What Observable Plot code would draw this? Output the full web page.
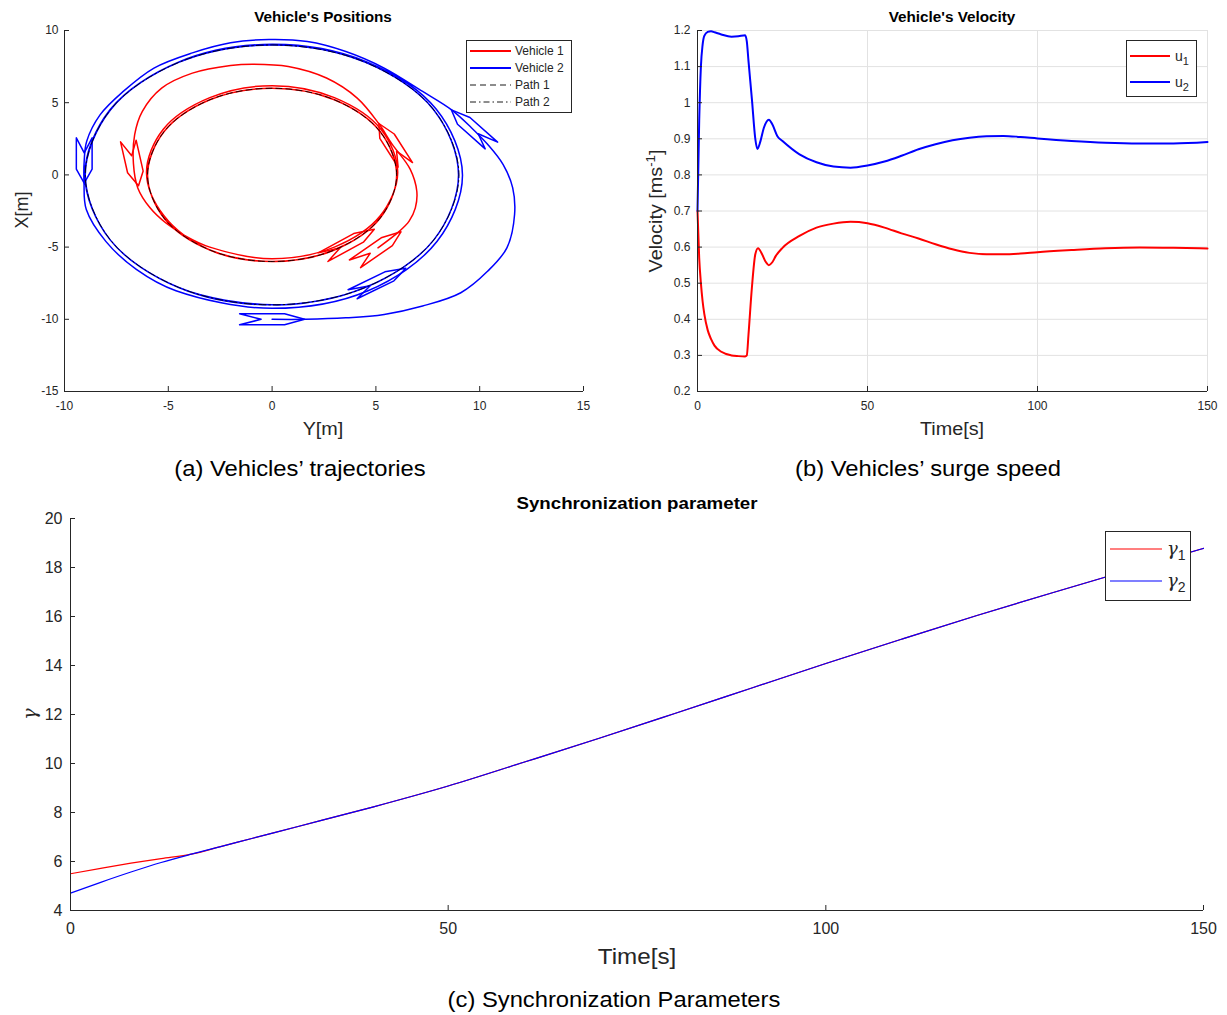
<!DOCTYPE html>
<html><head><meta charset="utf-8">
<script src="https://cdn.jsdelivr.net/npm/d3@7"></script>
<script src="https://cdn.jsdelivr.net/npm/@observablehq/plot@0.6"></script>
<style>
body{margin:0;background:#fff;}
#fig{position:relative;width:1227px;height:1015px;font-family:"Liberation Sans",Arial,Helvetica,sans-serif;color:#262626;overflow:hidden;}
.abs{position:absolute;white-space:nowrap;line-height:1;}
.lg{position:absolute;background:#fff;border:1px solid #262626;box-sizing:border-box;}
.plot{position:absolute;}
</style></head><body><div id="fig"></div>
<script>
// ---------- (a) Vehicles' trajectories : points as [Y, X] in metres ----------
const v1Y = [5.10, 6.14, 6.60, 6.90, 6.97, 6.65, 5.78, 5.12, 4.10, 2.62, 0.78, -0.89, -2.00, -3.84, -5.32, -6.25, -6.62, -6.68, -6.47, -5.88, -5.10, -4.20,
  -3.00, 0.00, 3.00, 5.20, 6.05, 5.25, 3.00, 0.00, -3.00, -5.25, -6.05, -5.20,
  -3.00, 0.00, 3.00, 5.20, 6.00, 5.20, 3.00, 0.00, -3.00, -5.20, -6.00, -5.20, -3.00, 0.00, 2.20, 3.69];
const v1X = [-5.05, -3.89, -3.20, -2.28, -1.13, 0.40, 2.13, 3.59, 5.32, 6.71, 7.51, 7.67, 7.58, 7.05, 6.01, 4.40, 2.79, 0.80, -0.90, -2.28, -3.35, -4.20,
  -5.00, -5.80, -5.00, -2.85, 0.15, 3.15, 5.35, 6.18, 5.35, 3.15, 0.15, -2.85,
  -5.20, -6.00, -5.20, -3.00, 0.00, 3.00, 5.20, 6.00, 5.20, 3.00, 0.00, -3.00, -5.20, -6.00, -5.58, -4.73];
const v2Y = [0.00, 1.61, 3.55, 5.40, 7.25, 9.09, 10.39, 11.31, 11.68, 11.59, 11.13, 10.39, 9.60, 8.63, 7.25, 5.40, 3.55, 1.70, -0.15, -2.00, -3.84, -5.69, -7.17, -8.28, -8.93, -9.05, -9.06,
  -8.95, -8.00, -6.54, -4.63, 0.00, 4.62, 7.95, 9.17, 7.90, 4.53, 0.00, -4.51, -7.81, -9.02, -7.80, -4.50, 0.00, 4.50, 7.79, 8.98, 7.79, 4.50, 0.00, -4.50, -7.79, -9.00, -7.80, -4.50, 0.00, 3.10, 5.16];
const v2X = [-10.00, -10.00, -9.90, -9.66, -9.08, -8.16, -6.66, -5.05, -2.74, -0.90, 0.71, 2.10, 3.27, 4.52, 5.78, 7.40, 8.55, 9.24, 9.38, 9.15, 8.45, 7.40, 5.78, 4.17, 2.33, 1.00, -0.55,
  -2.40, -4.62, -6.54, -8.02, -9.24, -8.02, -4.60, 0.00, 4.56, 7.84, 9.04, 7.81, 4.51, 0.00, -4.50, -7.80, -9.00, -7.79, -4.50, 0.00, 4.50, 7.79, 9.00, 7.79, 4.50, 0.00, -4.50, -7.80, -9.00, -8.45, -7.37];
// reference paths (circles of radius 6 and 9)
const p1Y = [6, 5.20, 3.00, 0, -3.00, -5.20, -6, -5.20, -3.00, 0, 3.00, 5.20];
const p1X = [0, 3.00, 5.20, 6, 5.20, 3.00, 0, -3.00, -5.20, -6, -5.20, -3.00];
const p2Y = [9, 7.79, 4.50, 0, -4.50, -7.79, -9, -7.79, -4.50, 0, 4.50, 7.79];
const p2X = [0, 4.50, 7.79, 9, 7.79, 4.50, 0, -4.50, -7.79, -9, -7.79, -4.50];
// vehicle poses drawn as glyphs: centre [Y, X] and heading (deg, in the Y-X plane)
const g1Y = [5.10, 5.78, -6.68, 3.69], g1X = [-5.05, 2.13, 0.80, -4.73], g1H = [45, 114, -81, 38];
const g2Y = [0.00, 9.60, -9.05, 5.16], g2X = [-10.00, 3.27, 1.00, -7.37], g2H = [0, 128, -90, 35];
const xTicksA = [-10, -5, 0, 5, 10, 15];
const yTicksA = [-15, -10, -5, 0, 5, 10];

// ---------- (b) Vehicles' surge speed ----------
const t1 = [0, 0.5, 1, 1.5, 2, 3, 4, 5, 7, 10, 12, 14, 14.5, 15, 16, 17, 17.8, 19, 20, 21, 22, 23, 25, 30, 35, 40, 45, 50, 55, 60, 65, 70, 75, 80, 85, 90, 95, 100, 110, 120, 130, 140, 150];
const u1 = [0.70, 0.57, 0.50, 0.45, 0.415, 0.37, 0.345, 0.327, 0.31, 0.30, 0.298, 0.297, 0.30, 0.358, 0.488, 0.58, 0.597, 0.58, 0.56, 0.55, 0.558, 0.575, 0.598, 0.631, 0.654, 0.665, 0.670, 0.666, 0.654, 0.638, 0.624, 0.608, 0.594, 0.584, 0.580, 0.580, 0.582, 0.586, 0.592, 0.597, 0.599, 0.598, 0.596];
const t2 = [0, 0.5, 1, 1.5, 2, 3, 4, 5, 7, 10, 12, 14, 14.5, 15, 16, 17, 17.6, 18.5, 19.5, 21, 22, 23.5, 25, 30, 35, 40, 45, 50, 55, 60, 65, 70, 75, 80, 85, 90, 95, 100, 110, 120, 130, 140, 150];
const u2 = [0.70, 0.95, 1.10, 1.16, 1.185, 1.196, 1.198, 1.195, 1.189, 1.183, 1.184, 1.187, 1.17, 1.115, 1.01, 0.90, 0.872, 0.893, 0.93, 0.953, 0.94, 0.907, 0.894, 0.857, 0.835, 0.823, 0.820, 0.826, 0.837, 0.853, 0.871, 0.885, 0.896, 0.903, 0.907, 0.908, 0.905, 0.901, 0.894, 0.889, 0.887, 0.887, 0.891];
const xTicksB = [0, 50, 100, 150];
const yTicksB = [0.2, 0.3, 0.4, 0.5, 0.6, 0.7, 0.8, 0.9, 1, 1.1, 1.2];

// ---------- (c) Synchronization parameters ----------
const tg = [0, 4, 8, 12, 16, 20, 24, 30, 40, 50, 60, 70, 80, 90, 100, 110, 120, 130, 140, 150];
const gamma1 = [5.50, 5.72, 5.93, 6.12, 6.30, 6.62, 6.94, 7.42, 8.22, 9.08, 10.05, 11.03, 12.04, 13.06, 14.08, 15.07, 16.04, 16.97, 17.88, 18.78];
const gamma2 = [4.71, 5.15, 5.57, 5.96, 6.30, 6.62, 6.94, 7.42, 8.22, 9.08, 10.05, 11.03, 12.04, 13.06, 14.08, 15.07, 16.04, 16.97, 17.88, 18.78];
const xTicksC = [0, 50, 100, 150];
const yTicksC = [4, 6, 8, 10, 12, 14, 16, 18, 20];

// ---------- helpers ----------
const AX = "#262626", GRID = "#e2e2e2", RED = "#ff0000", BLUE = "#0000ff";
const zipYX = (Y, X) => Y.map((y, i) => ({Y: y, X: X[i]}));
const zipTV = (T, V) => T.map((t, i) => ({t, v: V[i]}));
// vehicle outline in body frame (forward, lateral), metres
const hull = [[1.565, 0], [0.6, 0.38], [-1.565, 0.38], [-0.53, 0], [-1.565, -0.38], [0.6, -0.38], [1.565, 0]];
function glyphs(Ys, Xs, Hs, tag) {
  const out = [];
  Ys.forEach((y, i) => {
    const a = Hs[i] * Math.PI / 180, c = Math.cos(a), s = Math.sin(a);
    hull.forEach(([f, l]) => out.push({id: tag + i, Y: y + f * c - l * s, X: Xs[i] + f * s + l * c}));
  });
  return out;
}
const fmt = d => String(d);
function frameAxes(xTicks, yTicks, fw, fh, xDom, yDom, pad) {
  return [
    Plot.tickX(xTicks, {x: d => d, stroke: AX, insetTop: fh - 5}),
    Plot.tickY(yTicks, {y: d => d, stroke: AX, insetRight: fw - 5}),
    Plot.ruleX([xDom[0]], {stroke: AX}),
    Plot.ruleY([yDom[0]], {stroke: AX}),
    Plot.axisX(xTicks, {tickSize: 0, tickPadding: pad[0], tickFormat: fmt, label: null}),
    Plot.axisY(yTicks, {tickSize: 0, tickPadding: pad[1], tickFormat: fmt, label: null})
  ];
}
const fig = document.getElementById("fig");
function place(el, left, top) { el.classList.add("plot"); el.style.left = left + "px"; el.style.top = top + "px"; fig.appendChild(el); }
function txt(html, left, top, css, rot = false, sx = 1) {
  const d = document.createElement("div");
  d.className = "abs";
  d.style.cssText = `left:${left}px;top:${top}px;` + css +
    `transform:translate(-50%,-50%)${rot ? " rotate(-90deg)" : ""} scaleX(${sx});`;
  d.innerHTML = html; fig.appendChild(d); return d;
}
const baseStyle = fs => ({fontFamily: "Liberation Sans, Arial, Helvetica, sans-serif", fontSize: fs + "px", color: AX, background: "none", overflow: "visible"});

// ---------- Plot (a) ----------
{
  const W = 600, H = 450, mL = 64, mR = 17, mT = 30, mB = 59;
  const fw = W - mL - mR, fh = H - mT - mB;
  const plotA = Plot.plot({
    width: W, height: H, marginLeft: mL, marginRight: mR, marginTop: mT, marginBottom: mB,
    x: {domain: [-10, 15]}, y: {domain: [-15, 10]},
    style: baseStyle(12),
    marks: [
      Plot.line(zipYX(v1Y, v1X), {x: "Y", y: "X", stroke: RED, strokeWidth: 1.5, curve: "catmull-rom"}),
      Plot.line(glyphs(g1Y, g1X, g1H, "a"), {x: "Y", y: "X", z: "id", stroke: RED, strokeWidth: 1.5}),
      Plot.line(zipYX(v2Y, v2X), {x: "Y", y: "X", stroke: BLUE, strokeWidth: 1.5, curve: "catmull-rom"}),
      Plot.line(glyphs(g2Y, g2X, g2H, "b"), {x: "Y", y: "X", z: "id", stroke: BLUE, strokeWidth: 1.5}),
      Plot.line(zipYX(p1Y, p1X), {x: "Y", y: "X", stroke: "#000", strokeWidth: 0.9, strokeDasharray: "6,4", curve: "catmull-rom-closed"}),
      Plot.line(zipYX(p2Y, p2X), {x: "Y", y: "X", stroke: "#000", strokeWidth: 0.9, strokeDasharray: "7,3,1.5,3", curve: "catmull-rom-closed"}),
      ...frameAxes(xTicksA, yTicksA, fw, fh, [-10, 15], [-15, 10], [10, 6])
    ]
  });
  place(plotA, 0, 0);
}
// ---------- Plot (b) ----------
{
  const W = 607, H = 450, mL = 77, mR = 20, mT = 30, mB = 59;
  const fw = W - mL - mR, fh = H - mT - mB;
  const plotB = Plot.plot({
    width: W, height: H, marginLeft: mL, marginRight: mR, marginTop: mT, marginBottom: mB,
    x: {domain: [0, 150]}, y: {domain: [0.2, 1.2]},
    style: baseStyle(12),
    marks: [
      Plot.ruleX(xTicksB.slice(1), {stroke: GRID}),
      Plot.ruleY(yTicksB.slice(1), {stroke: GRID}),
      Plot.line(zipTV(t1, u1), {x: "t", y: "v", stroke: RED, strokeWidth: 2, curve: "monotone-x"}),
      Plot.line(zipTV(t2, u2), {x: "t", y: "v", stroke: BLUE, strokeWidth: 2, curve: "monotone-x"}),
      ...frameAxes(xTicksB, yTicksB, fw, fh, [0, 150], [0.2, 1.2], [10, 7])
    ]
  });
  place(plotB, 620, 0);
}
// ---------- Plot (c) ----------
{
  const W = 1227, H = 460, mL = 70, mR = 24, mT = 28, mB = 40;
  const fw = W - mL - mR, fh = H - mT - mB;
  const plotC = Plot.plot({
    width: W, height: H, marginLeft: mL, marginRight: mR, marginTop: mT, marginBottom: mB,
    x: {domain: [0, 150]}, y: {domain: [4, 20]},
    style: baseStyle(16),
    marks: [
      Plot.line(zipTV(tg, gamma1), {x: "t", y: "v", stroke: RED, strokeWidth: 1.2, curve: "monotone-x"}),
      Plot.line(zipTV(tg, gamma2), {x: "t", y: "v", stroke: BLUE, strokeWidth: 1.2, curve: "monotone-x"}),
      ...frameAxes(xTicksC, yTicksC, fw, fh, [0, 150], [4, 20], [12, 8])
    ]
  });
  place(plotC, 0, 490);
}

// ---------- titles, labels, captions ----------
txt("Vehicle's Positions", 323, 17, "font-weight:bold;font-size:14px;color:#000;", false, 1.09);
txt("Vehicle's Velocity", 952, 17, "font-weight:bold;font-size:14px;color:#000;", false, 1.09);
txt("Synchronization parameter", 637, 503, "font-weight:bold;font-size:17px;color:#000;", false, 1.1);
txt("Y[m]", 323, 429, "font-size:18px;", false, 1.1);
txt("X[m]", 22, 210, "font-size:18px;", true, 1.0);
txt("Time[s]", 952, 429, "font-size:18px;", false, 1.1);
txt("Velocity [ms<sup style='font-size:12px;vertical-align:7px'>-1</sup>]", 655, 211, "font-size:18px;", true, 1.1);
txt("Time[s]", 637, 957, "font-size:22px;", false, 1.1);
txt("&#947;", 29, 714, "font-size:19px;font-family:'DejaVu Serif',serif;font-style:italic;", true, 1);
txt("(a) Vehicles’ trajectories", 300, 469, "font-size:22px;color:#000;", false, 1.08);
txt("(b) Vehicles’ surge speed", 928, 469, "font-size:22px;color:#000;", false, 1.08);
txt("(c) Synchronization Parameters", 614, 1000, "font-size:22px;color:#000;", false, 1.08);

// ---------- legends ----------
function legendBox(left, top, w, h, rows, fs, lineX1, lineX2, textX, sw) {
  const box = document.createElement("div");
  box.className = "lg";
  Object.assign(box.style, {left: left + "px", top: top + "px", width: w + "px", height: h + "px"});
  const svg = `<svg width="${w}" height="${h}" style="position:absolute;left:-1px;top:-1px">` +
    rows.map(r => `<line x1="${lineX1}" x2="${lineX2}" y1="${r.y}" y2="${r.y}" stroke="${r.color}" stroke-width="${r.sw || sw}" ${r.dash ? `stroke-dasharray="${r.dash}"` : ""}/>`).join("") + "</svg>";
  box.innerHTML = svg + rows.map(r => `<div class="abs" style="left:${textX}px;top:${r.y - fs * 0.55}px;font-size:${fs}px;${r.css || ""}">${r.label}</div>`).join("");
  fig.appendChild(box);
}
legendBox(466, 40, 106, 73, [
  {y: 11, color: RED, label: "Vehicle 1"},
  {y: 28, color: BLUE, label: "Vehicle 2"},
  {y: 45, color: "#000", dash: "6,4", sw: 0.9, label: "Path 1"},
  {y: 62, color: "#000", dash: "6,3,1.5,3", sw: 0.9, label: "Path 2"}
], 12, 4, 45, 48, 2);
legendBox(1126, 40, 71, 57, [
  {y: 16, color: RED, label: "u<sub style='font-size:11px'>1</sub>"},
  {y: 42, color: BLUE, label: "u<sub style='font-size:11px'>2</sub>"}
], 14, 4, 44, 48, 2);
legendBox(1105, 531, 86, 70, [
  {y: 18, color: RED, label: "<i style=\"font-family:'DejaVu Serif',serif\">&#947;</i><sub style='font-size:14px'>1</sub>"},
  {y: 50, color: BLUE, label: "<i style=\"font-family:'DejaVu Serif',serif\">&#947;</i><sub style='font-size:14px'>2</sub>"}
], 18, 5, 57, 61, 1.2);
</script></body></html>
